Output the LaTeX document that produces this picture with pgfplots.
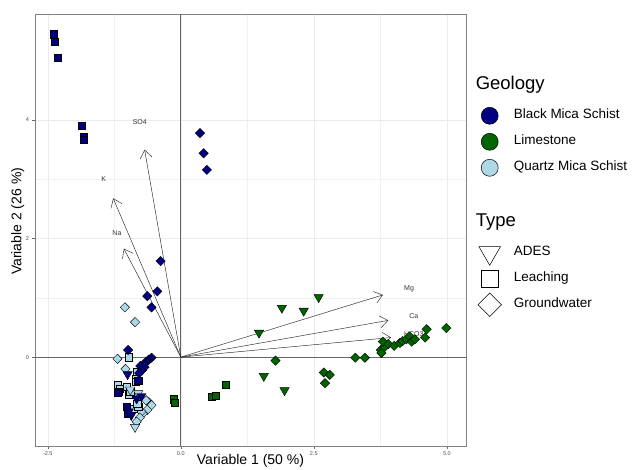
\documentclass[border=0pt]{standalone}
\usepackage{fontspec}
\setmainfont{Liberation Sans}
\usepackage{pgfplots}
\pgfplotsset{compat=1.18}
\usetikzlibrary{arrows.meta}

\definecolor{bms}{HTML}{000080}
\definecolor{lst}{HTML}{006400}
\definecolor{qms}{HTML}{ADD8E6}

\pgfplotsset{
  sq/.style={forget plot, only marks, mark=square*, mark size=3.6pt,
    mark options={draw=black, line width=0.4pt, fill=#1}},
  dm/.style={forget plot, only marks, mark=square*, mark size=3.3pt,
    mark options={rotate=45, draw=black, line width=0.4pt, fill=#1}},
  tr/.style={forget plot, only marks, mark=triangle*, mark size=5.4pt,
    mark options={rotate=180, draw=black, line width=0.4pt, fill=#1}},
  ld/.style={forget plot, black!85, line width=0.45pt,
    -{Straight Barb[length=8pt, width=12pt, line width=0.45pt]}},
}

\begin{document}
\begin{tikzpicture}
\useasboundingbox (-35pt,-23pt) rectangle (608pt,446pt);
\begin{axis}[
  at={(0,0)}, anchor=south west,
  scale only axis, width=431pt, height=432pt,
  xmin=-2.74, xmax=5.36, ymin=-1.50, ymax=5.79,
  xtick={-2.5,0,2.5,5}, ytick={0,2,4},
  minor x tick num=1, minor y tick num=1,
  grid=both,
  major grid style={black!8, line width=0.5pt},
  minor grid style={black!6, line width=0.3pt},
  axis line style={black!50, line width=0.6pt},
  tick style={black!60, line width=0.4pt},
  major tick length=2.5pt, minor tick length=0pt,
  tick align=outside, xtick pos=left, ytick pos=left,
  /pgf/number format/assume math mode=true,
  x tick label style={font=\fontsize{5.5}{6}\selectfont, text=black!70,
    /pgf/number format/.cd, fixed, fixed zerofill, precision=1},
  y tick label style={font=\fontsize{5.5}{6}\selectfont, text=black!70},
  xlabel={Variable 1 (50 \%)}, ylabel={Variable 2 (26 \%)},
  label style={font=\fontsize{14}{16}\selectfont},
  xlabel style={at={(axis description cs:0.5,-0.035)}, anchor=center},
  ylabel style={at={(axis description cs:-0.04,0.52)}, anchor=center},
  legend cell align=left,
  legend style={draw=none, fill=none, at={(1.0278,0.857)}, anchor=north west,
    inner sep=0pt, outer sep=0pt, /tikz/row sep=0pt, /tikz/column sep=12.3pt,
    font=\fontsize{13.5}{16}\selectfont,
    nodes={inner sep=0pt, text height=16pt, text depth=10pt}},
]

\draw[black!60, line width=0.6pt] (axis cs:0,-1.5) -- (axis cs:0,5.79);
\draw[black!60, line width=0.6pt] (axis cs:-2.74,0) -- (axis cs:5.36,0);

% loadings
\addplot[ld] coordinates {(0,0) (-0.68,3.50)};
\addplot[ld] coordinates {(0,0) (-1.27,2.68)};
\addplot[ld] coordinates {(0,0) (-1.07,1.83)};
\addplot[ld] coordinates {(0,0) (3.80,1.05)};
\addplot[ld] coordinates {(0,0) (3.90,0.62)};
\addplot[ld] coordinates {(0,0) (3.95,0.33)};
\addplot[forget plot, only marks, mark=none, nodes near coords, point meta=explicit symbolic,
  nodes near coords style={font=\fontsize{7}{8}\selectfont, text=black!80, anchor=center}]
  table[meta=lab, row sep=\\] {
  x y lab \\
  -0.77 3.97 SO4 \\
  -1.45 3.00 K \\
  -1.20 2.09 Na \\
  4.29 1.16 Mg \\
  4.38 0.69 Ca \\
  4.38 0.39 HCO3 \\
};

% Quartz Mica Schist
\addplot[dm=qms] coordinates {(-1.05,0.84) (-0.86,0.59) (-1.19,-0.03) (-1.04,-0.20)
  (-0.60,-0.76) (-0.65,-0.73) (-0.55,-0.81) (-0.63,-0.89) (-0.71,-0.95) (-0.74,-0.92)
  (-0.77,-1.02) (-0.83,-1.09)};
\addplot[sq=qms] coordinates {(-0.98,0.00) (-0.83,-0.24) (-0.85,-0.36) (-0.84,-0.42)
  (-1.18,-0.47) (-1.15,-0.53) (-1.17,-0.58) (-1.02,-0.50) (-0.98,-0.64) (-0.95,-0.58)
  (-0.89,-0.87) (-0.80,-0.84) (-0.82,-0.78)};
\addplot[tr=qms] coordinates {(-0.80,-0.61) (-0.95,-0.55) (-0.86,-1.18)};

% Black Mica Schist
\addplot[sq=bms] coordinates {(-2.39,5.45) (-2.37,5.32) (-2.31,5.05) (-1.86,3.90)
  (-1.82,3.72) (-1.83,3.67) (-1.18,-0.60) (-1.02,-0.84) (-1.00,-0.95) (-0.80,-0.40)};
\addplot[dm=bms] coordinates {(0.36,3.78) (0.43,3.44) (0.49,3.16) (-0.38,1.62)
  (-0.44,1.11) (-0.63,1.03) (-0.55,0.84) (-0.99,0.12) (-0.55,-0.01) (-0.60,-0.04)
  (-0.62,-0.06) (-0.65,-0.08) (-0.70,-0.12) (-0.76,-0.15) (-0.68,-0.17) (-0.73,-0.22)
  (-0.78,-0.27)};
\addplot[tr=bms] coordinates {(-1.00,-0.29) (-0.83,-0.70) (-0.74,-0.66) (-0.93,-0.98)
  (-0.98,-0.92)};

% Limestone
\addplot[tr=lst] coordinates {(1.47,0.41) (1.90,0.83) (2.31,0.78) (2.59,1.01)
  (1.56,-0.32) (1.95,-0.56)};
\addplot[sq=lst] coordinates {(0.84,-0.46) (0.58,-0.67) (0.66,-0.65) (-0.14,-0.71)
  (-0.11,-0.77)};
\addplot[dm=lst] coordinates {(1.78,-0.06) (2.69,-0.26) (2.80,-0.30) (2.71,-0.44)
  (3.28,-0.01) (3.46,-0.01) (3.76,0.12) (3.77,0.07) (3.83,0.17) (3.80,0.26)
  (3.90,0.22) (4.01,0.19) (4.12,0.24) (4.17,0.27) (4.24,0.30) (4.30,0.35)
  (4.34,0.26) (4.40,0.30) (4.59,0.33) (4.62,0.47) (4.99,0.49)};

% legend
\addlegendimage{empty legend}
\addlegendentry[font=\fontsize{18.5}{20}\selectfont, text height=14pt, text depth=13pt]{\hspace*{-38pt}Geology}
\addlegendimage{only marks, mark=*, mark size=8.5pt, mark options={fill=bms, draw=black, line width=0.5pt}}
\addlegendentry{Black Mica Schist}
\addlegendimage{only marks, mark=*, mark size=8.5pt, mark options={fill=lst, draw=black, line width=0.5pt}}
\addlegendentry{Limestone}
\addlegendimage{only marks, mark=*, mark size=8.5pt, mark options={fill=qms, draw=black, line width=0.5pt}}
\addlegendentry{Quartz Mica Schist}
\addlegendimage{empty legend}
\addlegendentry[font=\fontsize{18.5}{20}\selectfont, text height=46pt, text depth=13pt]{\hspace*{-38pt}Type}
\addlegendimage{only marks, mark=triangle, mark size=12.5pt, mark options={rotate=180, draw=black, line width=0.5pt}}
\addlegendentry{ADES}
\addlegendimage{only marks, mark=square, mark size=8.5pt, mark options={draw=black, line width=0.5pt}}
\addlegendentry{Leaching}
\addlegendimage{only marks, mark=square, mark size=8.3pt, mark options={rotate=45, draw=black, line width=0.5pt}}
\addlegendentry{Groundwater}
\end{axis}
\end{tikzpicture}
\end{document}
